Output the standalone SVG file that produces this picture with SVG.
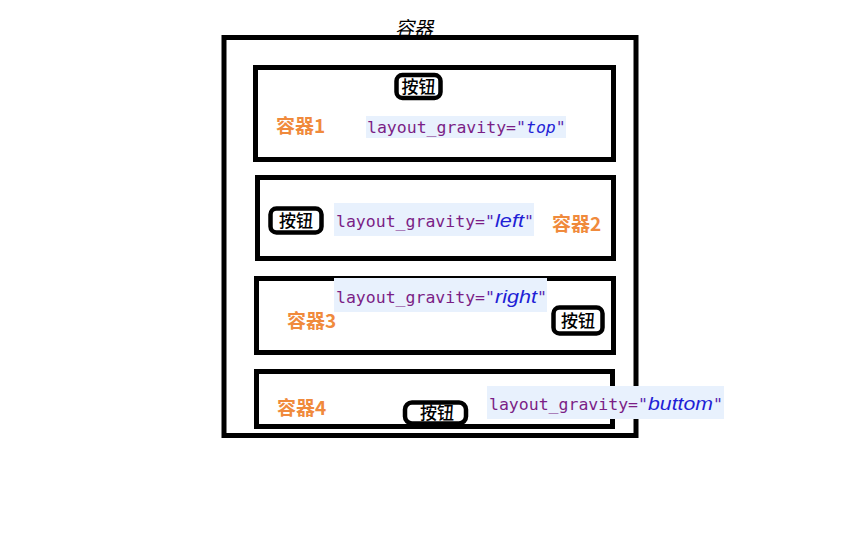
<svg xmlns="http://www.w3.org/2000/svg" width="861" height="538" viewBox="0 0 861 538">
<style>
.box{fill:none;stroke:#000;stroke-width:5}
.btn{fill:#fff;stroke:#000;stroke-width:4.5}
.btxt{font-family:"Noto Sans CJK SC",sans-serif;font-size:17px;font-weight:500;fill:#000;text-anchor:middle}
.lbl{font-family:"Noto Sans CJK SC",sans-serif;font-size:19px;font-weight:bold;fill:#F08A3C}
.bg{fill:#E8F1FD}
.code{font-family:"DejaVu Sans Mono",monospace;font-size:16.5px;fill:#7B1E86}
.q{fill:#5A2AB0}
.val{font-family:"Liberation Sans",sans-serif;font-style:italic;font-size:18px;fill:#1F1FD6}
.valm{font-family:"DejaVu Sans Mono",monospace;font-style:italic;font-size:16.5px;fill:#1F1FD6}
.title{font-family:"Noto Sans CJK SC",sans-serif;font-size:19px;font-style:italic;fill:#000}
</style>
<rect width="861" height="538" fill="#fff"/>
<g id="container">
<rect class="box" x="224" y="37.5" width="412" height="398"/>
<text class="title" x="395" y="35">容器</text>
</g>
<g id="box1">
<rect class="box" x="255.5" y="67.5" width="358" height="92"/>
<rect class="btn" x="396.5" y="75" width="44" height="23" rx="6"/>
<text class="btxt" x="418.5" y="93">按钮</text>
<text class="lbl" x="276" y="133">容器1</text>
<rect class="bg" x="366" y="116" width="200" height="22"/>
<text class="code" x="367" y="133">layout_gravity=<tspan class="q">"</tspan><tspan class="valm">top</tspan><tspan class="q">"</tspan></text>
</g>
<g id="box2">
<rect class="box" x="257.5" y="177.5" width="356" height="81"/>
<rect class="btn" x="270.5" y="208.5" width="51" height="24" rx="6"/>
<text class="btxt" x="296" y="227">按钮</text>
<text class="lbl" x="552" y="231">容器2</text>
<rect class="bg" x="334" y="203" width="200" height="33"/>
<text class="code" x="336" y="227">layout_gravity=<tspan class="q">"</tspan></text>
<text class="val" x="495" y="227" textLength="29" lengthAdjust="spacingAndGlyphs">left</text>
<text class="code q" x="524" y="227">"</text>
</g>
<g id="box3">
<rect class="box" x="256.5" y="278.5" width="357" height="74"/>
<rect class="btn" x="553.5" y="307.5" width="49" height="26" rx="6"/>
<text class="btxt" x="578" y="327">按钮</text>
<text class="lbl" x="287" y="328">容器3</text>
<rect class="bg" x="334" y="278" width="213" height="34"/>
<text class="code" x="336" y="303">layout_gravity=<tspan class="q">"</tspan></text>
<text class="val" x="495" y="303" textLength="42" lengthAdjust="spacingAndGlyphs">right</text>
<text class="code q" x="537" y="303">"</text>
</g>
<g id="box4">
<rect class="box" x="256.5" y="371.5" width="356" height="55"/>
<rect class="btn" x="405" y="402.5" width="61" height="21" rx="7"/>
<text class="btxt" x="437" y="419">按钮</text>
<text class="lbl" x="277" y="415">容器4</text>
<rect class="bg" x="487" y="386" width="237" height="33"/>
<text class="code" x="489" y="410">layout_gravity=<tspan class="q">"</tspan></text>
<text class="val" x="648" y="410" textLength="65" lengthAdjust="spacingAndGlyphs">buttom</text>
<text class="code q" x="713" y="410">"</text>
</g>
<g id="connectors"></g>
</svg>
